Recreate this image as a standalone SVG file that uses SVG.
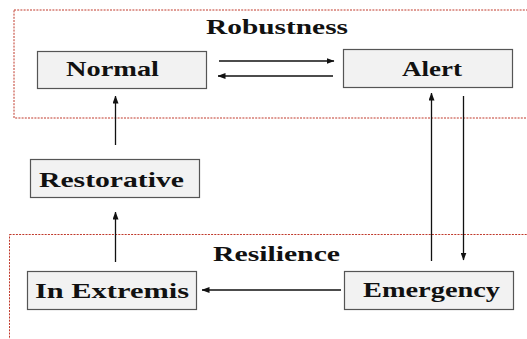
<svg xmlns="http://www.w3.org/2000/svg" width="527" height="339" viewBox="0 0 527 339">
  <style>
    .region { fill: none; stroke: #c0392b; stroke-width: 1; stroke-dasharray: 2 1.2; }
    .box { fill: #f2f2f2; stroke: #555; stroke-width: 1.2; }
    .label { font-family: "Liberation Serif", "DejaVu Serif", serif; font-weight: bold; font-size: 21px; fill: #111; }
    .edge { stroke: #111; stroke-width: 1.3; fill: none; marker-end: url(#head); }
  </style>
  <defs>
    <marker id="head" viewBox="0 0 8 6" refX="7.5" refY="3" markerWidth="8" markerHeight="6" markerUnits="userSpaceOnUse" orient="auto">
      <path d="M0,0 L8,3 L0,6 Z" fill="#111"/>
    </marker>
  </defs>

  <rect id="white" width="527" height="339" fill="#fff"/>

  <!-- regions -->
  <g id="robustness">
    <rect class="region" x="14" y="10" width="530" height="108"/>
    <text class="label" x="277" y="34" text-anchor="middle" textLength="142" lengthAdjust="spacingAndGlyphs">Robustness</text>
  </g>
  <g id="resilience">
    <rect class="region" x="9.5" y="234.5" width="530" height="120"/>
    <text class="label" x="276.5" y="261" text-anchor="middle" textLength="127" lengthAdjust="spacingAndGlyphs">Resilience</text>
  </g>

  <!-- connectors -->
  <g id="connectors">
    <line class="edge" x1="219" y1="61" x2="334" y2="61"/>
    <line class="edge" x1="333" y1="76" x2="218" y2="76"/>
    <line class="edge" x1="115.5" y1="145" x2="115.5" y2="96"/>
    <line class="edge" x1="115.5" y1="262" x2="115.5" y2="212"/>
    <line class="edge" x1="431.5" y1="261" x2="431.5" y2="93"/>
    <line class="edge" x1="463.5" y1="96" x2="463.5" y2="260"/>
    <line class="edge" x1="341" y1="290" x2="202" y2="290"/>
  </g>

  <!-- nodes -->
  <g id="normal">
    <rect class="box" x="37.5" y="51.5" width="169" height="37"/>
    <text class="label" x="112.5" y="76" text-anchor="middle" textLength="93" lengthAdjust="spacingAndGlyphs">Normal</text>
  </g>
  <g id="alert">
    <rect class="box" x="343.5" y="49.5" width="169" height="38"/>
    <text class="label" x="432" y="76" text-anchor="middle" textLength="60" lengthAdjust="spacingAndGlyphs">Alert</text>
  </g>
  <g id="restorative">
    <rect class="box" x="30.5" y="159.5" width="169" height="38"/>
    <text class="label" x="111.5" y="187" text-anchor="middle" textLength="145" lengthAdjust="spacingAndGlyphs">Restorative</text>
  </g>
  <g id="in-extremis">
    <rect class="box" x="27.5" y="271.5" width="169" height="38"/>
    <text class="label" x="112" y="298" text-anchor="middle" textLength="154" lengthAdjust="spacingAndGlyphs">In Extremis</text>
  </g>
  <g id="emergency">
    <rect class="box" x="344.5" y="271.5" width="169" height="38"/>
    <text class="label" x="431.5" y="297" text-anchor="middle" textLength="137" lengthAdjust="spacingAndGlyphs">Emergency</text>
  </g>
</svg>
